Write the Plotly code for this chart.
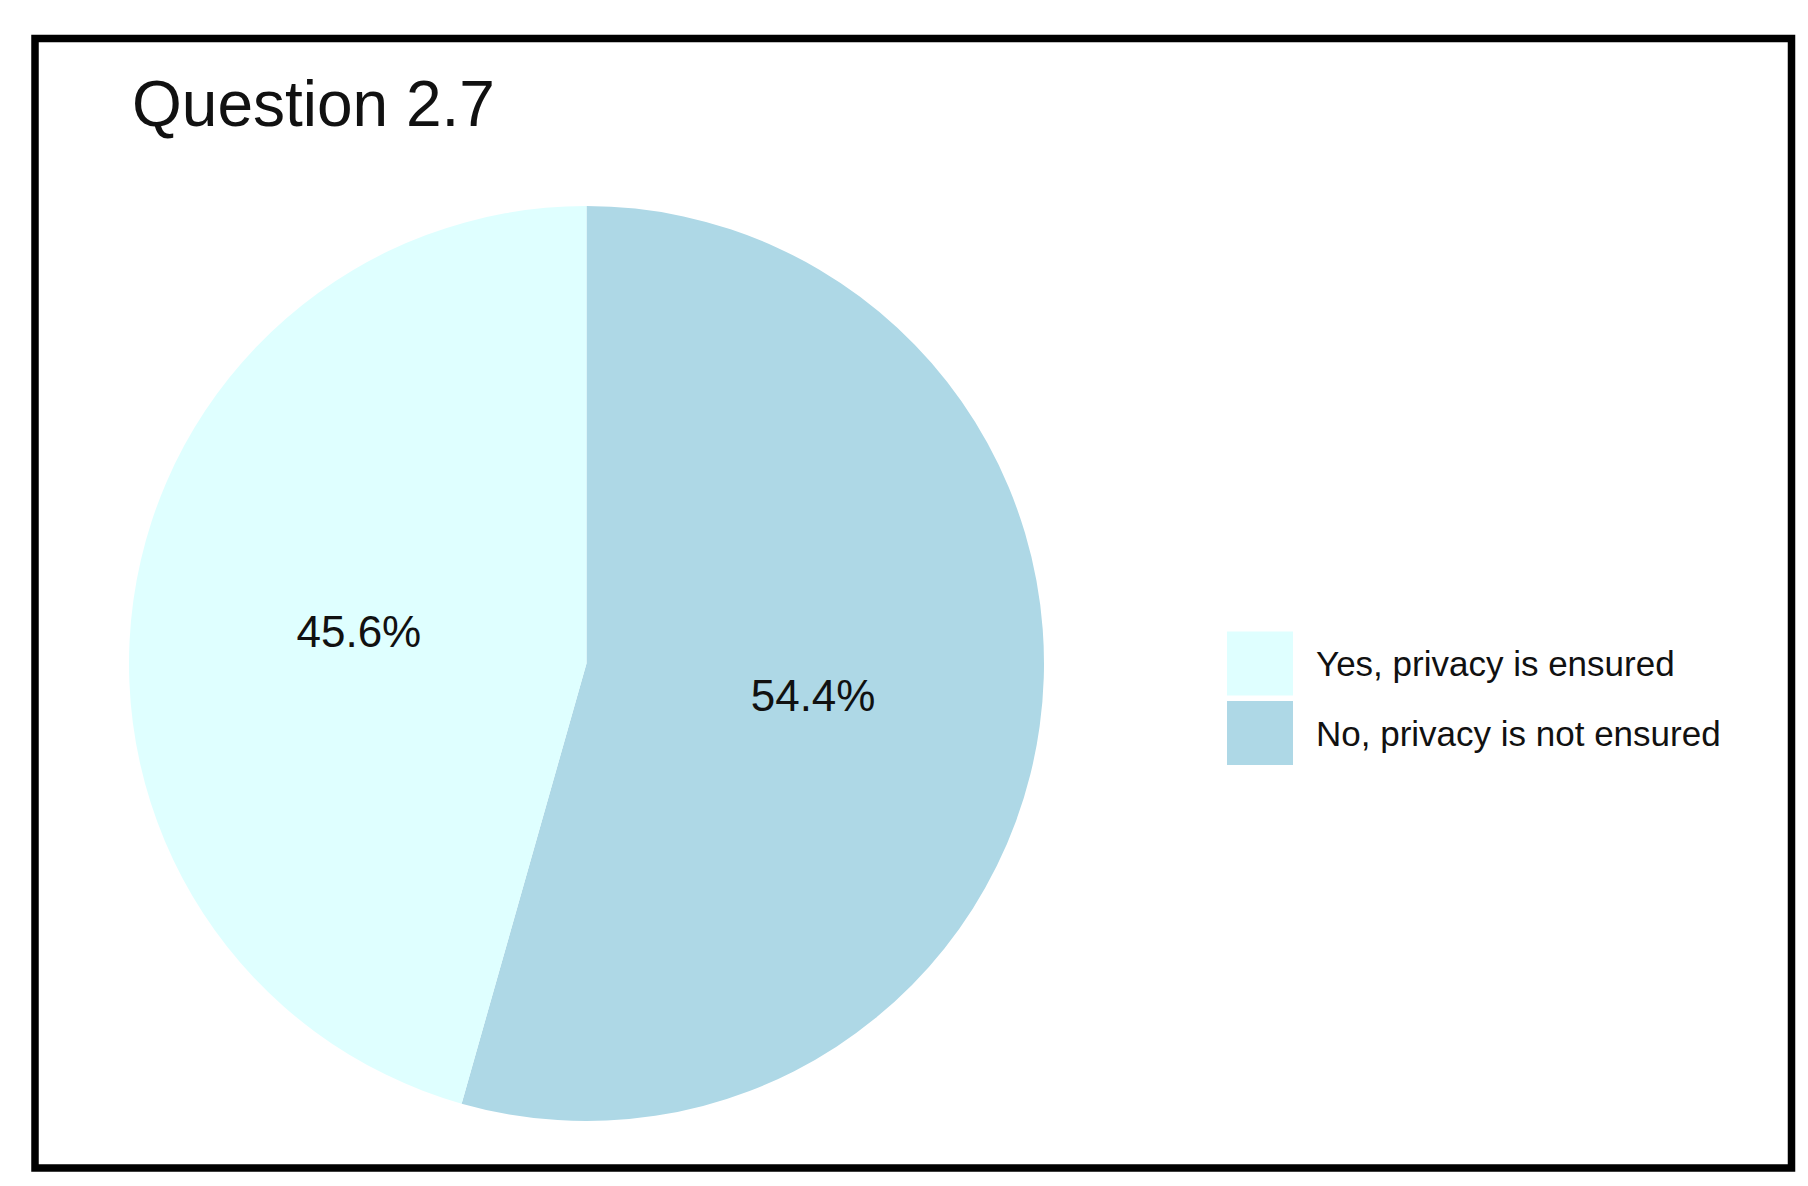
import plotly.graph_objects as go

# ---- data ----
labels = ["Yes, privacy is ensured", "No, privacy is not ensured"]
values = [45.6, 54.4]
colors = ["#DFFFFF", "#AED8E6"]
title_text = "Question 2.7"

W, H = 1808, 1186
FONT = "Liberation Sans, Arial, sans-serif"

def px(x):
    return x / W

def py(y):
    return 1 - y / H

# slices drawn clockwise from 12 o'clock, "No" first so "Yes" sits on the left
fig = go.Figure()
fig.add_trace(go.Pie(
    labels=labels[::-1],
    values=values[::-1],
    sort=False,
    direction="clockwise",
    rotation=0,
    marker=dict(colors=colors[::-1], line=dict(width=0)),
    texttemplate="%{percent:.1%}",
    textposition="inside",
    insidetextorientation="horizontal",
    textfont=dict(family=FONT, size=44, color="#111111"),
    domain=dict(x=[px(121), px(1036)], y=[py(1114), py(197)]),
    showlegend=False,
    hoverinfo="label+percent",
))

shapes = [dict(type="rect", xref="paper", yref="paper",
               x0=px(27), x1=px(1783.5), y0=py(30.5), y1=py(1160),
               line=dict(color="black", width=7.5), fillcolor="rgba(0,0,0,0)")]
annotations = []
row_y = [655.5, 725]
sq_w, sq_h = 66, 64
for lab, col, cy in zip(labels, colors, row_y):
    shapes.append(dict(type="rect", xref="paper", yref="paper",
                       x0=px(1219), x1=px(1219 + sq_w), y0=py(cy + sq_h / 2), y1=py(cy - sq_h / 2),
                       line=dict(width=0), fillcolor=col))
    annotations.append(dict(xref="paper", yref="paper", x=px(1306), y=py(cy),
                            xanchor="left", yanchor="middle", showarrow=False,
                            text=lab, font=dict(family=FONT, size=35, color="#111111")))

fig.update_layout(
    width=W, height=H,
    margin=dict(l=0, r=0, t=0, b=0),
    paper_bgcolor="white",
    plot_bgcolor="white",
    title=dict(text=title_text, x=px(124), xanchor="left", xref="paper",
               y=py(96), yanchor="middle", yref="container",
               font=dict(family=FONT, size=64, color="#111111")),
    shapes=shapes,
    annotations=annotations,
)

fig.write_html("out.html")
